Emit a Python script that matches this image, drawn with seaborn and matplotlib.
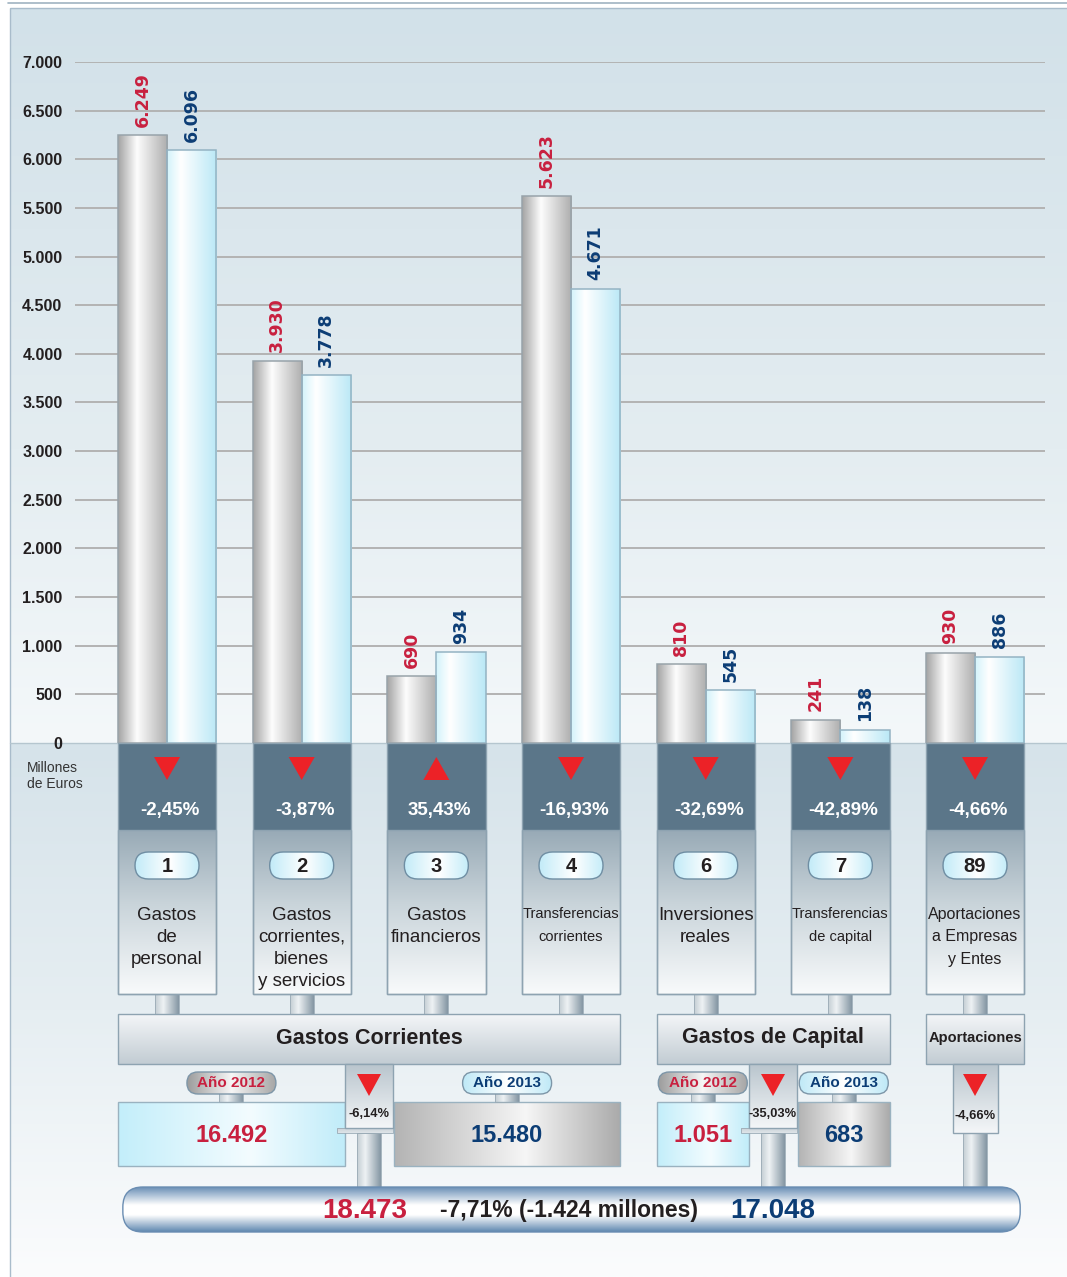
import numpy as np
import pandas as pd
import matplotlib
matplotlib.use("Agg")
import matplotlib.pyplot as plt
import seaborn as sns
from matplotlib.colors import LinearSegmentedColormap
from matplotlib.patches import Rectangle, FancyBboxPatch, Polygon

# ---- data ----
codes = ["1", "2", "3", "4", "6", "7", "89"]
categories = [
    "Gastos\nde\npersonal",
    "Gastos\ncorrientes,\nbienes\ny servicios",
    "Gastos\nfinancieros",
    "Transferencias\ncorrientes",
    "Inversiones\nreales",
    "Transferencias\nde capital",
    "Aportaciones\na Empresas\ny Entes",
]
values_2012 = [6249, 3930, 690, 5623, 810, 241, 930]
values_2013 = [6096, 3778, 934, 4671, 545, 138, 886]
pct_change = [-2.45, -3.87, 35.43, -16.93, -32.69, -42.89, -4.66]
y_ticks = list(range(0, 7001, 500))

group_names = ["Gastos Corrientes", "Gastos de Capital", "Aportaciones"]
group_members = [["1", "2", "3", "4"], ["6", "7"], ["89"]]
group_2012 = [16492, 1051, None]
group_2013 = [15480, 683, None]
group_pct = [-6.14, -35.03, -4.66]

total_2012 = 18473
total_2013 = 17048
total_pct = -7.71
total_diff = -1424

# ---- style ----
sns.set_style("white")
FONT = "Liberation Sans"
plt.rcParams["font.family"] = [FONT, "DejaVu Sans"]

RED = "#c8203f"
BLUE = "#0c3d75"
DARK = "#231f20"
TRI = "#ec2227"
SLATE = "#5b7689"
EDGE = "#8ea3b1"


def miles(v):
    return f"{v:,}".replace(",", ".")


def pct(v):
    return f"{v:.2f}%".replace(".", ",")


def gradient(axis, x0, x1, y0, y1, colors, stops=None, horizontal=True, clip=None, z=1):
    if stops is None:
        stops = np.linspace(0, 1, len(colors))
    cmap = LinearSegmentedColormap.from_list("g", list(zip(stops, colors)))
    ramp = np.linspace(0, 1, 256)
    arr = ramp[None, :] if horizontal else ramp[:, None]
    im = axis.imshow(arr, cmap=cmap, extent=(x0, x1, y1, y0), origin="upper",
                     aspect="auto", interpolation="bilinear", zorder=z)
    if clip is not None:
        im.set_clip_path(clip)
    return im


W, H = 1067, 1277
fig = plt.figure(figsize=(10.67, 12.77), dpi=100)
bg = fig.add_axes([0, 0, 1, 1], zorder=0)
bg.set_xlim(0, W)
bg.set_ylim(H, 0)
bg.set_autoscale_on(False)
bg.axis("off")


def box(x0, y0, w, h, colors, stops=None, horizontal=True, ec=EDGE, lw=1, z=2, style=None):
    if style:
        p = FancyBboxPatch((x0, y0), w, h, boxstyle=style, fc="none", ec=ec, lw=lw, zorder=z + 0.1)
    else:
        p = Rectangle((x0, y0), w, h, fc="none", ec=ec, lw=lw, zorder=z + 0.1)
    bg.add_patch(p)
    gradient(bg, x0, x0 + w, y0, y0 + h, colors, stops, horizontal, clip=p, z=z)
    return p


def cylinder(x0, x1, y0, y1, z=2):
    box(x0, y0, x1 - x0, y1 - y0, ["#c3cdd3", "#eef2f4", "#8496a3"], [0, 0.35, 1],
        ec="#9aabb6", lw=0.6, z=z)


def tri(x, ytop, w, h, up=False, z=4):
    if up:
        pts = [(x - w / 2, ytop + h), (x + w / 2, ytop + h), (x, ytop)]
    else:
        pts = [(x - w / 2, ytop), (x + w / 2, ytop), (x, ytop + h)]
    bg.add_patch(Polygon(pts, closed=True, fc=TRI, ec="none", zorder=z))


def txt(x, y, s, size, color=DARK, weight="normal", z=5, **kw):
    bg.text(x, y, s, fontsize=size, color=color, fontweight=weight,
            ha=kw.pop("ha", "center"), va=kw.pop("va", "center"), zorder=z, **kw)


# background panel
gradient(bg, 10, W, 8, 743, ["#d2e1e9", "#e4edf1", "#f4f8fa"], [0, 0.6, 1], horizontal=False, z=0.2)
gradient(bg, 10, W, 743, H, ["#d6e3ea", "#e6eef2", "#fbfcfd"], [0, 0.5, 1], horizontal=False, z=0.2)
bg.add_patch(Rectangle((10, 8), W, H, fc="none", ec="#a9bccb", lw=1, zorder=0.3))
bg.plot([8, W], [2.5, 2.5], color="#9fb3c1", lw=1.2, zorder=0.3)
bg.plot([10, W], [743, 743], color="#b5c6cf", lw=1, zorder=0.3)

# ---- bar chart ----
ax = fig.add_axes([75 / W, 1 - 743 / H, 970 / W, 681 / H], zorder=2)
ax.patch.set_alpha(0)

df = pd.DataFrame({
    "code": codes * 2,
    "year": ["2012"] * len(codes) + ["2013"] * len(codes),
    "value": values_2012 + values_2013,
})
sns.barplot(data=df, x="code", y="value", hue="year", order=codes,
            hue_order=["2012", "2013"], palette={"2012": "#cfcfcf", "2013": "#d6f4fc"},
            width=0.73, gap=0, saturation=1, errorbar=None, legend=False, ax=ax)

bar_style = [
    (["#a3a3a3", "#fdfdfd", "#adadad"], [0, 0.38, 1], "#98a3aa"),
    (["#d3f3fb", "#ffffff", "#bae8f6"], [0, 0.28, 1], "#94b3c3"),
]
for cont, (cols, stops, ec) in zip(ax.containers, bar_style):
    for p in cont:
        x0, w, h = p.get_x(), p.get_width(), p.get_height()
        p.set_facecolor("none")
        p.set_edgecolor(ec)
        p.set_linewidth(1.1)
        p.set_zorder(3)
        gradient(ax, x0, x0 + w, 0, h, cols, stops, clip=p, z=2.5)

ax.set_xlim(-0.6832, 6.5196)
ax.set_ylim(0, 7000)

ax.bar_label(ax.containers[0], labels=[miles(v) for v in values_2012], rotation=90,
             padding=6, color=RED, fontsize=12.5, fontweight="bold", family="DejaVu Sans")
ax.bar_label(ax.containers[1], labels=[miles(v) for v in values_2013], rotation=90,
             padding=6, color=BLUE, fontsize=12.5, fontweight="bold", family="DejaVu Sans")

ax.set_yticks(y_ticks)
ax.set_yticklabels([miles(t) for t in y_ticks])
ax.tick_params(axis="y", length=0, pad=9, labelsize=11.5, labelcolor=DARK)
for lbl in ax.get_yticklabels():
    lbl.set_fontweight("bold")
ax.set_xticks([])
ax.set_xlabel("")
ax.set_ylabel("")
sns.despine(ax=ax, left=True, bottom=True)
ax.yaxis.grid(True, color="#b3b3b3", lw=1.4)
ax.set_axisbelow(True)
ax.get_ygridlines()[0].set_visible(False)

txt(27, 761, "Millones\nde Euros", 10, color="#333333", ha="left", va="top", linespacing=1.15)


def px(xd):
    disp = ax.transData.transform((xd, 0))
    return bg.transData.inverted().transform(disp)[0]


HALF = 0.365
cat_sizes = [13.5, 13.5, 13.5, 10.5, 13.5, 10.5, 11.5]

# ---- per-category columns ----
for i, code in enumerate(codes):
    c, l, r = px(i), px(i - HALF), px(i + HALF)
    bg.add_patch(Rectangle((l, 743), r - l, 87, fc=SLATE, ec="none", zorder=2))
    box(l, 830, r - l, 164, ["#98aab6", "#c9d4da", "#f8fafb"], [0, 0.45, 1], horizontal=False)
    bg.add_patch(Rectangle((l, 743), r - l, 251, fc="none", ec=EDGE, lw=1, zorder=3))
    tri(c, 757, 26, 23, up=pct_change[i] > 0)
    txt(c + 3, 810, pct(pct_change[i]), 13.5, color="white", weight="bold")
    box(c - 32, 852, 64, 27, ["#c2ebf8", "#ffffff", "#c6edf9"], [0, 0.55, 1], ec="#6f8ea3",
        z=4, style="round,pad=0,rounding_size=13.5")
    txt(c, 866, code, 14.5, weight="bold")
    size = cat_sizes[i]
    # keep ~22.5 px between baselines whatever the font size
    txt(c, 907, categories[i], size, va="top", linespacing=22.5 / (0.87 * size * 100 / 72))
    cylinder(c - 12, c + 12, 994, 1014)

# ---- groups ----
centers = []
for g, name in enumerate(group_names):
    idx = [codes.index(m) for m in group_members[g]]
    gl, gr = px(min(idx) - HALF), px(max(idx) + HALF)
    gc = (gl + gr) / 2
    centers.append(gc)
    box(gl, 1014, gr - gl, 50, ["#f4f6f8", "#c2ccd3"], horizontal=False)
    txt(gc, 1038, name, 15.5 if len(idx) > 1 else 10.5, weight="bold")

    if group_2012[g] is not None:
        cw = 48
        cl, cr = gc - cw / 2, gc + cw / 2
        box(cl - 8, 1128, cw + 8, 5, ["#c9d2d8", "#dfe5e9"], horizontal=False, ec="#9aabb6", lw=0.6, z=2.5)
        box(cl, 1064, cw, 64, ["#b9c5cd", "#f4f6f8"], horizontal=False, z=3)
        tri(gc, 1074, 24, 22)
        txt(gc, 1114, pct(group_pct[g]), 9.3, weight="bold")
        cylinder(gc - 12, gc + 12, 1133, 1187)
        year_boxes = [
            (gl, cl, group_2012[g], "Año 2012", RED,
             ["#c3eefa", "#f3fcff", "#c0ecf9"], ["#9c9c9c", "#f6f6f6", "#a6a6a6"]),
            (cr + 1, gr, group_2013[g], "Año 2013", BLUE,
             ["#b3b3b3", "#f6f6f6", "#aaaaaa"], ["#bfe9f7", "#ffffff", "#bfe9f7"]),
        ]
        for x0, x1, val, year, col, fill, pill in year_boxes:
            bx = (x0 + x1) / 2
            box(x0, 1102, x1 - x0, 64, fill, [0, 0.58, 1], ec="#9ab2c0")
            txt(bx, 1135, miles(val), 17, color=col, weight="bold")
            pw = min(89, x1 - x0)
            cylinder(bx - 12, bx + 12, 1093, 1102)
            box(bx - pw / 2, 1072, pw, 22, pill, [0, 0.5, 1], ec="#7d96a8", z=3,
                style="round,pad=0,rounding_size=11")
            txt(bx, 1083, year, 11, color=col, weight="bold")
    else:
        cw = 45
        box(gc - cw / 2, 1064, cw, 69, ["#b9c5cd", "#f4f6f8"], horizontal=False, z=3)
        tri(gc, 1074, 24, 22)
        txt(gc, 1116, pct(group_pct[g]), 9.3, weight="bold")
        cylinder(gc - 12, gc + 12, 1133, 1187)

# ---- total bar ----
tl, tr = px(-HALF) + 5, px(len(codes) - 1 + HALF) - 4
box(tl, 1187, tr - tl, 45, ["#6a8fb6", "#ffffff", "#ffffff", "#5d86af"], [0, 0.4, 0.62, 1],
    horizontal=False, ec="#6a8db2", z=3, style="round,pad=0,rounding_size=20")
txt(centers[0] - 4, 1211, miles(total_2012), 20, color=RED, weight="bold")
txt((centers[0] + centers[1]) / 2 - 2, 1210, f"{pct(total_pct)} ({miles(total_diff)} millones)",
    16.5, weight="bold")
txt(centers[1], 1211, miles(total_2013), 20, color=BLUE, weight="bold")

fig.savefig("out.png", dpi=100)
